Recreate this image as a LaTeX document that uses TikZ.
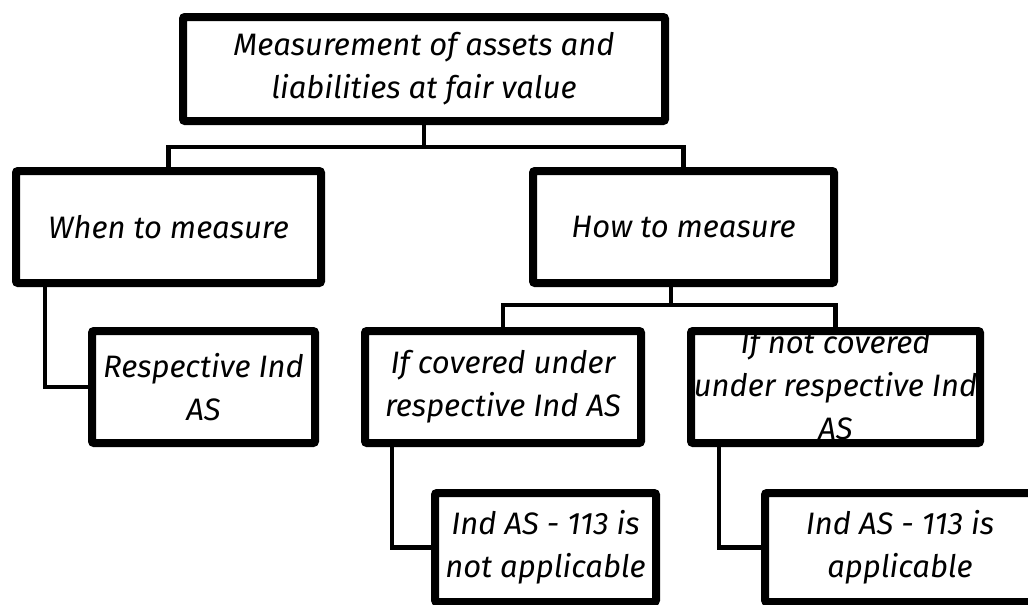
\documentclass[tikz,border=0pt]{standalone}
\usepackage{fontspec}
\setmainfont{Fira Sans}
\usetikzlibrary{shadows}
\pgfdeclarelayer{bg}
\pgfsetlayers{bg,main}
\begin{document}
\begin{tikzpicture}[x=1pt,y=-1pt,
  box/.style={draw=black, line width=8pt, fill=white, rounded corners=2pt, inner sep=0pt,
    drop shadow={shadow xshift=1.5pt, shadow yshift=-2.5pt, fill=black, opacity=0.25}},
  lbl/.style={font=\fontsize{31}{43}\selectfont\itshape, align=center, inner sep=0pt},
  conn/.style={draw=black, line width=4.2pt}]
\useasboundingbox (0,0) rectangle (1028,605);

% boxes
\node[box, minimum width=482pt, minimum height=104pt] (top) at (424,69) {};
\node[box, minimum width=305pt, minimum height=112pt] (when) at (168.5,227) {};
\node[box, minimum width=301pt, minimum height=112pt] (how) at (683.5,227) {};
\node[box, minimum width=223pt, minimum height=112pt] (resp) at (203.5,387) {};
\node[box, minimum width=276pt, minimum height=112pt] (cov) at (503,387) {};
\node[box, minimum width=289pt, minimum height=112pt] (ncov) at (835.5,387) {};
\node[box, minimum width=221pt, minimum height=109pt] (napp) at (545.5,547.5) {};
\node[box, minimum width=270pt, minimum height=109pt] (app) at (900,547.5) {};

% labels
\node[lbl] (topT) at (top) {Measurement of assets and\\liabilities at fair value};
\node[lbl] (whenT) at (when) {When to measure};
\node[lbl] (howT) at (how) {How to measure};
\node[lbl] (respT) at (resp) {Respective Ind\\AS};
\node[lbl] (covT) at (cov) {If covered under\\respective Ind AS};
\node[lbl] (ncovT) at ([yshift=2pt]ncov.center) {If not covered\\under respective Ind\\AS};
\node[lbl] (nappT) at (napp) {Ind AS - 113 is\\not applicable};
\node[lbl] (appT) at (app) {Ind AS - 113 is\\applicable};

% connectors
\coordinate (busA) at (0,147);
\coordinate (wx) at (45,0);
\coordinate (busB) at (671,305);
\coordinate (cx) at (392,0);
\coordinate (nx) at (719,0);
\begin{pgfonlayer}{bg}
\fill[white] (0,0) rectangle (1028,605);
\draw[conn] (top.south) -- (top.south |- busA);
\draw[conn] (when.north) -- (when.north |- busA) -- (how.north |- busA) -- (how.north);
\draw[conn] (when.south -| wx) |- (resp.west);
\draw[conn] (how.south -| busB) -- (busB);
\draw[conn] (cov.north) |- (busB) -| (ncov.north);
\draw[conn] (cov.south -| cx) |- (napp.west);
\draw[conn] (ncov.south -| nx) |- (app.west);
\end{pgfonlayer}
\end{tikzpicture}
\end{document}
